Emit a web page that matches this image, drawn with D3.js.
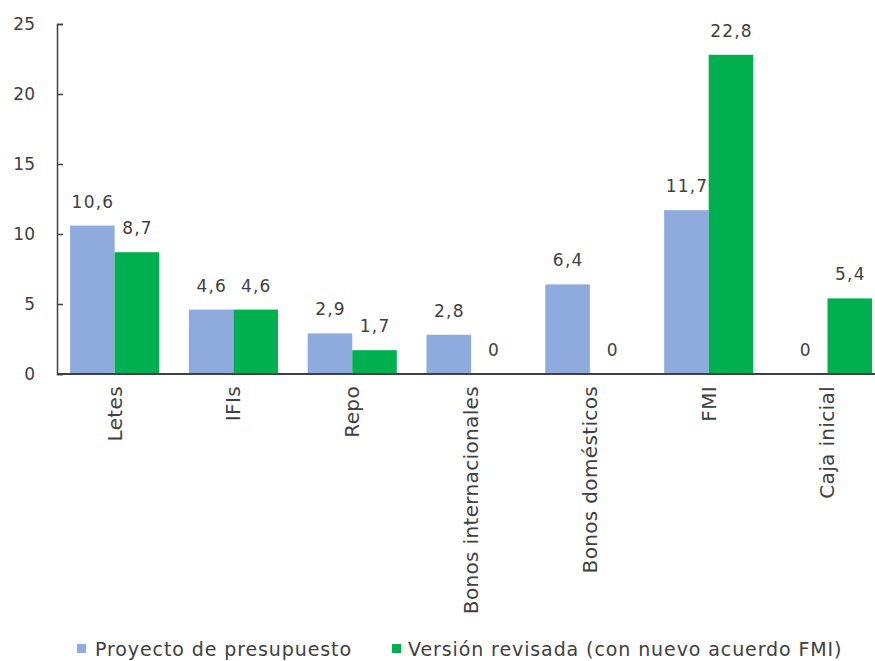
<!DOCTYPE html>
<html>
<head>
<meta charset="utf-8">
<script src="https://cdn.jsdelivr.net/npm/d3@7"></script>
<style>
  body { margin: 0; background: #fff; }
  svg text { font-family: "DejaVu Sans", sans-serif; fill: #404040; }
</style>
</head>
<body>
<div id="chart"></div>
<script>
const categories = ["Letes", "IFIs", "Repo", "Bonos internacionales", "Bonos domésticos", "FMI", "Caja inicial"];
const seriesNames = ["Proyecto de presupuesto", "Versión revisada (con nuevo acuerdo FMI)"];
const proyecto = [10.6, 4.6, 2.9, 2.8, 6.4, 11.7, 0];
const revisada = [8.7, 4.6, 1.7, 0, 0, 22.8, 5.4];
const yTicks = [0, 5, 10, 15, 20, 25];
const colors = ["#8FAADC", "#00B050"];

const chartWidth = 875, chartHeight = 661;
const plotLeft = 57, plotBottom = 374, plotTop = 24;

var svg = d3.select("#chart").append("svg")
    .attr("width", chartWidth).attr("height", chartHeight);

// the plot runs past the right edge, like the reference crop
var x0 = d3.scaleBand()
    .domain(categories)
    .range([plotLeft, plotLeft + 7 * 118.3])
    .paddingInner(0.25)
    .paddingOuter(0.11);

var x1 = d3.scaleBand()
    .domain([0, 1])
    .range([0, x0.bandwidth()]);

var y = d3.scaleLinear().domain([0, 25]).range([plotBottom, plotTop]);

// rows for bars
var rows = [];
categories.forEach(function(c, i) {
    rows.push({cat: c, s: 0, v: proyecto[i]});
    rows.push({cat: c, s: 1, v: revisada[i]});
});

svg.selectAll("rect.bar")
    .data(rows)
    .enter()
    .append("rect")
    .attr("class", "bar")
    .attr("x", d => x0(d.cat) + x1(d.s))
    .attr("y", d => y(d.v))
    .attr("width", x1.bandwidth())
    .attr("height", d => y(0) - y(d.v))
    .attr("fill", d => colors[d.s]);

// value labels
var fmt = function(v) { return v === 0 ? "0" : d3.format(".1f")(v).replace(".", ","); };
svg.selectAll("text.val")
    .data(rows)
    .enter()
    .append("text")
    .attr("class", "val")
    .attr("x", d => x0(d.cat) + x1(d.s) + x1.bandwidth() / 2 + 0.6)
    .attr("y", d => y(d.v) - 18)
    .attr("text-anchor", "middle")
    .style("font-size", "17px")
    .style("letter-spacing", "1.2px")
    .text(d => fmt(d.v));

// y axis
var yAxis = d3.axisRight(y).tickValues(yTicks).tickSize(6).tickFormat(d3.format("d"));
var ga = svg.append("g").attr("transform", "translate(" + plotLeft + ",0)").call(yAxis);
ga.select(".domain").attr("stroke", "#404040").attr("stroke-width", 1.5);
ga.selectAll(".tick line").attr("stroke", "#404040").attr("stroke-width", 1.5);
ga.selectAll(".tick text")
    .attr("x", -22)
    .attr("text-anchor", "end")
    .attr("dy", "0.35em")
    .style("font-size", "17px")
    .attr("fill", "#404040");

// x axis baseline
var gx = svg.append("g").attr("transform", "translate(0," + plotBottom + ")")
    .call(d3.axisBottom(x0).tickSize(0).tickSizeOuter(0));
gx.select(".domain").attr("stroke", "#404040").attr("stroke-width", 2)
    .attr("d", "M" + plotLeft + ",0H" + chartWidth);
gx.selectAll(".tick text")
    .attr("transform", "rotate(-90)")
    .attr("x", -12)
    .attr("y", 0)
    .attr("dy", "0.35em")
    .attr("text-anchor", "end")
    .style("font-size", "20px")
    .style("letter-spacing", "0.35px")
    .attr("fill", "#404040");

// legend
var legX = [77, 392];
var leg = svg.selectAll("g.leg")
    .data(seriesNames)
    .enter()
    .append("g")
    .attr("class", "leg")
    .attr("transform", (d, i) => "translate(" + legX[i] + ",649)");
leg.append("rect")
    .attr("x", 0).attr("y", -5)
    .attr("width", 9).attr("height", 9)
    .attr("fill", (d, i) => colors[i]);
leg.append("text")
    .attr("x", (d, i) => i === 0 ? 18 : 16)
    .attr("dy", "0.35em")
    .style("font-size", "19px")
    .style("letter-spacing", "0.9px")
    .text(d => d);
</script>
</body>
</html>
